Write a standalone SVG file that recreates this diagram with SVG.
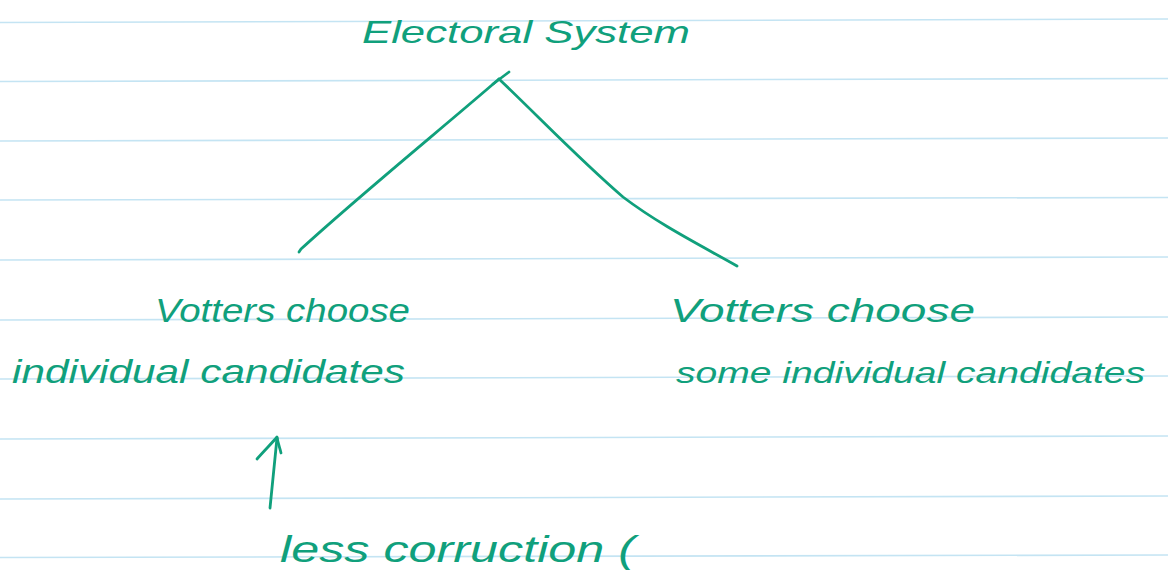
<svg xmlns="http://www.w3.org/2000/svg" width="1168" height="585" viewBox="0 0 1168 585">
<style>
.rule{stroke:#c4e4f3;stroke-width:1.6;fill:none}
.ink{fill:#10a07c;font-family:"Liberation Sans","DejaVu Sans",sans-serif;font-style:italic}
.pen{stroke:#10a07c;stroke-width:2.8;fill:none;stroke-linecap:round;stroke-linejoin:round}
</style>
<rect width="1168" height="585" fill="#ffffff"/>
<g id="paper-lines">
<line class="rule" x1="0" y1="22.5" x2="1168" y2="19"/>
<line class="rule" x1="0" y1="81.5" x2="1168" y2="78.5"/>
<line class="rule" x1="0" y1="141" x2="1168" y2="138"/>
<line class="rule" x1="0" y1="200" x2="1168" y2="197.5"/>
<line class="rule" x1="0" y1="260" x2="1168" y2="257"/>
<line class="rule" x1="0" y1="320" x2="1168" y2="317"/>
<line class="rule" x1="0" y1="379" x2="1168" y2="376"/>
<line class="rule" x1="0" y1="439" x2="1168" y2="436"/>
<line class="rule" x1="0" y1="499" x2="1168" y2="496"/>
<line class="rule" x1="0" y1="557.5" x2="1168" y2="555"/>
</g>
<g id="connectors">
<path class="pen" d="M493,84 L509,72"/>
<path class="pen" d="M499,79 C440,130 360,195 301,249 L299,252"/>
<path class="pen" d="M499,79 C540,118 580,160 623,197 C660,225 700,245 737,266"/>
<path class="pen" d="M270,508 L277,438"/>
<path class="pen" d="M257,459 C265,450 272,443 277,437 C278,444 280,448 281,453"/>
</g>
<g id="node-root">
<text class="ink" x="362" y="43" font-size="32" textLength="328" lengthAdjust="spacingAndGlyphs">Electoral System</text>
</g>
<g id="node-left">
<text class="ink" x="155" y="322" font-size="34" textLength="255" lengthAdjust="spacingAndGlyphs">Votters choose</text>
<text class="ink" x="12" y="383" font-size="34" textLength="393" lengthAdjust="spacingAndGlyphs">individual candidates</text>
</g>
<g id="node-right">
<text class="ink" x="670" y="322" font-size="34" textLength="305" lengthAdjust="spacingAndGlyphs">Votters choose</text>
<text class="ink" x="676" y="383" font-size="30" textLength="469" lengthAdjust="spacingAndGlyphs">some individual candidates</text>
</g>
<g id="node-note">
<text class="ink" x="280" y="562" font-size="36" textLength="355" lengthAdjust="spacingAndGlyphs">less corruction (</text>
</g>
</svg>
